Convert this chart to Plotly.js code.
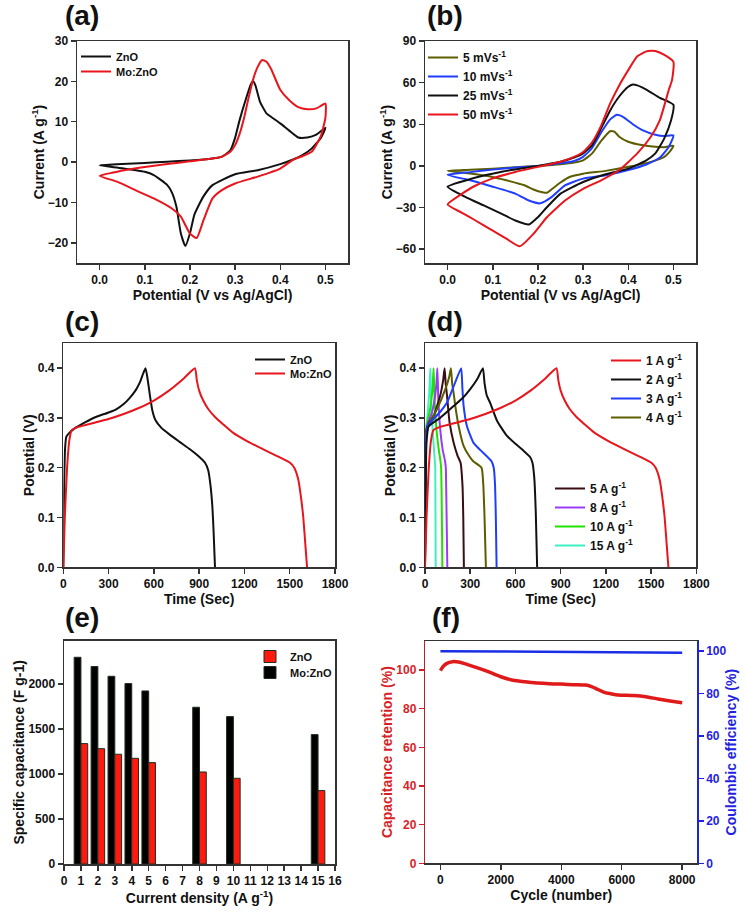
<!DOCTYPE html>
<html><head><meta charset="utf-8">
<script src="https://cdn.plot.ly/plotly-3.0.1.min.js"></script>
<style>html,body{margin:0;padding:0;background:#fff}#chart{width:746px;height:915px}</style>
</head><body><div id="chart"></div>
<script>
// ---------- (a) CV ZnO vs Mo:ZnO ----------
const a_zno_x = [0,0.05,0.1,0.15,0.2,0.25,0.27,0.28,0.29,0.3,0.31,0.325,0.335,0.34,0.345,0.355,0.37,0.385,0.4,0.42,0.44,0.46,0.48,0.5, 0.49,0.47,0.45,0.43,0.4,0.35,0.3,0.25,0.23,0.21,0.2,0.19,0.18,0.17,0.16,0.15,0.12,0.1,0.05,0];
const a_zno_y = [-0.8,-0.5,-0.2,0.1,0.4,0.9,1.3,2.0,3.0,6.0,10.4,16,19.3,20,19,15,12,10.8,9.6,7.8,6.1,6.1,6.8,8.5, 6,3.4,1.8,0.7,-0.5,-2,-3,-5.7,-8.5,-13,-17.7,-20.8,-17.7,-11,-7.5,-5.7,-3.2,-2.4,-1.5,-0.8];
const a_mo_x = [0,0.03,0.06,0.1,0.15,0.2,0.25,0.27,0.29,0.3,0.31,0.32,0.33,0.34,0.35,0.36,0.37,0.38,0.4,0.42,0.44,0.46,0.48,0.5, 0.5,0.49,0.47,0.45,0.43,0.4,0.35,0.3,0.27,0.25,0.23,0.215,0.2,0.18,0.16,0.12,0.08,0.04,0];
const a_mo_y = [-3.4,-2.6,-1.9,-1.2,-0.5,0.2,0.9,1.3,2.6,4.2,7,11,16,20.5,23.6,25.3,24.8,23,17.9,15.3,13.6,13.1,13.3,14.5, 11,6.5,2.6,1.5,0.7,-1.6,-3.6,-5.3,-7,-9,-14.4,-18.8,-17.7,-13.5,-11.5,-9,-7,-4.9,-3.4];

// ---------- (b) CV at scan rates ----------
const b5_x = [0,0.05,0.1,0.15,0.2,0.25,0.28,0.3,0.32,0.34,0.36,0.37,0.38,0.4,0.43,0.46,0.48,0.5, 0.49,0.48,0.45,0.4,0.35,0.3,0.27,0.25,0.23,0.22,0.21,0.19,0.17,0.13,0.1,0.05,0];
const b5_y = [-3.6,-2.8,-2,-1,0,1.2,2.4,4,9,18,25,24.5,21,17.4,15,13.8,13.5,14.5, 9.5,6.5,2.9,-0.7,-3.6,-5.6,-8,-12,-17,-19.4,-19,-17,-14,-10.4,-8,-5.5,-3.6];
const b10_x = [0,0.05,0.1,0.15,0.2,0.25,0.28,0.3,0.32,0.34,0.36,0.375,0.39,0.41,0.43,0.46,0.48,0.5, 0.49,0.47,0.44,0.4,0.35,0.3,0.26,0.23,0.205,0.18,0.15,0.1,0.05,0];
const b10_y = [-6.5,-4.5,-2.7,-1.2,0,1.8,3.5,6.5,13,24,33.5,36.8,35,30,26,22.5,21.5,22, 13.8,6,1,-3,-6.8,-9.2,-14,-22.5,-27,-25,-20,-15,-10.4,-6.5];
const b25_x = [0,0.04,0.08,0.12,0.16,0.2,0.25,0.28,0.3,0.32,0.34,0.36,0.38,0.4,0.41,0.42,0.44,0.47,0.5, 0.495,0.48,0.46,0.44,0.4,0.35,0.3,0.25,0.22,0.2,0.18,0.15,0.12,0.08,0.04,0];
const b25_y = [-15,-10.5,-7,-4.2,-2,0,3,6,9,15,27,40,50,57,58.6,58,55,49,44, 33,20,9,4,-2,-6,-11.6,-20,-29.8,-37,-42.3,-39.4,-34.6,-28.5,-22.5,-15];
const b50_x = [0,0.03,0.06,0.1,0.15,0.2,0.25,0.28,0.3,0.32,0.34,0.36,0.38,0.4,0.42,0.44,0.45,0.46,0.48,0.5, 0.497,0.49,0.47,0.45,0.42,0.38,0.34,0.3,0.26,0.22,0.19,0.16,0.13,0.1,0.06,0.03,0];
const b50_y = [-27.8,-20.5,-14.5,-9,-4.4,-0.7,3,6.5,10,17,29,45,58,69,79,82.5,83,82.8,80,75, 62,55,33,21,9,-3,-10.4,-16.5,-25,-37,-49,-58,-52.5,-46.7,-39,-33.5,-27.8];

// ---------- (c) GCD ZnO vs Mo:ZnO ----------
const c_zno_t = [0,5,12,20,40,80,150,200,243,300,353,400,442,480,508,530,545, 560,574,590,610,650,707,770,839,900,939,960,975,988,996,1001,1005];
const c_zno_v = [0,0.15,0.24,0.262,0.27,0.28,0.292,0.3,0.305,0.311,0.318,0.328,0.341,0.356,0.372,0.39,0.4, 0.375,0.345,0.315,0.296,0.28,0.266,0.252,0.237,0.222,0.21,0.195,0.165,0.12,0.07,0.03,0];
const c_mo_t = [0,10,25,40,55,100,200,300,400,500,600,700,800,872, 885,900,927,960,1005,1060,1126,1220,1325,1420,1502,1530,1557,1575,1590,1605,1615];
const c_mo_v = [0,0.1,0.2,0.255,0.275,0.282,0.29,0.298,0.308,0.32,0.335,0.355,0.38,0.4, 0.375,0.355,0.335,0.318,0.302,0.287,0.27,0.253,0.237,0.223,0.21,0.2,0.176,0.14,0.1,0.04,0];

// ---------- (d) GCD at current densities ----------
const d1_t = c_mo_t, d1_v = c_mo_v;
const d2_t = [0,4,10,24,100,190,250,300,350,384, 395,410,433,477,541,600,651,696,713,725,735,744];
const d2_v = [0,0.15,0.25,0.283,0.3,0.324,0.34,0.358,0.38,0.4, 0.37,0.345,0.33,0.295,0.265,0.248,0.235,0.222,0.21,0.18,0.11,0];
const d3_t = [0,3,8,20,57,100,146,201,240, 248,256,278,322,386,441,456,464,470,475];
const d3_v = [0,0.15,0.26,0.285,0.298,0.312,0.331,0.372,0.4, 0.36,0.325,0.284,0.25,0.23,0.213,0.2,0.17,0.1,0];
const d4_t = [0,3,8,30,80,135,160,172, 180,190,201,223,256,290,320,375,386,395,404];
const d4_v = [0,0.18,0.27,0.29,0.318,0.358,0.382,0.4, 0.37,0.35,0.324,0.284,0.244,0.225,0.213,0.2,0.17,0.1,0];
const d5_t = [0,2,6,25,57,101,120,130, 137,146,163,190,215,236,249,254,258];
const d5_v = [0.02,0.2,0.27,0.29,0.304,0.345,0.375,0.4, 0.37,0.345,0.291,0.25,0.225,0.21,0.163,0.1,0];
const d8_t = [0,2,5,20,45,65,76,82, 88,95,105,118,132,138,141,145,148];
const d8_v = [0.02,0.2,0.27,0.29,0.31,0.34,0.37,0.4, 0.34,0.3,0.265,0.235,0.215,0.2,0.15,0.07,0];
const d10_t = [0,2,5,15,35,50,57, 62,70,80,92,102,107,110,113,115];
const d10_v = [0.02,0.2,0.27,0.29,0.32,0.36,0.4, 0.35,0.3,0.265,0.235,0.215,0.2,0.15,0.07,0];
const d15_t = [0,2,5,15,28,35, 40,46,53,60,65,68,69,70,71];
const d15_v = [0.03,0.22,0.275,0.3,0.35,0.4, 0.34,0.3,0.265,0.235,0.215,0.2,0.15,0.07,0];

// ---------- (e) specific capacitance ----------
const e_density = [1,2,3,4,5,8,10,15];
const e_zno = [1337,1281,1219,1174,1126,1022,952,815];
const e_mozno = [2296,2193,2085,2004,1922,1741,1637,1437];

// ---------- (f) cycling ----------
const f_cycle = [0,100,200,400,600,800,1000,1300,1600,2000,2400,2800,3200,3600,4000,4400,4800,5000,5200,5400,5600,5800,6000,6400,6800,7200,7600,8000];
const f_retention = [99.7,102,103.3,104.3,104.1,103.3,102.3,100.7,99,96.5,94.7,93.9,93.3,92.9,92.7,92.4,92.2,91.4,90,88.6,87.8,87.2,87,86.8,86.2,85,84,83.1];
const f_ce_cycle = [0,2000,4000,6000,8000];
const f_ce = [99.9,99.7,99.5,99.4,99.2];

// ---------- styling ----------
const F = 'Liberation Sans, Arial, sans-serif';
const W = 746, H = 915;
const dx = (l, r) => [l / W, r / W];
const dy = (t, b) => [1 - b / H, 1 - t / H];

function ax(domain, anchor, range, title, extra) {
  return Object.assign({
    domain, anchor, range, showline: true, mirror: true, linecolor: '#333', linewidth: 1.5,
    ticks: 'outside', ticklen: 5, tickwidth: 1.5, tickcolor: '#333', showgrid: false, zeroline: false,
    tickfont: {family: F, size: 12, weight: 'bold', color: '#111'},
    title: {text: title, font: {family: F, size: 14, weight: 'bold', color: '#111'}, standoff: 0}
  }, extra || {});
}
function line(x, y, name, color, xa, ya, leg, w) {
  return {type: 'scatter', mode: 'lines', x, y, name, xaxis: xa, yaxis: ya, legend: leg,
    line: {color, width: w || 2, shape: 'spline', smoothing: 0.5}};
}

const traces = [
  line(a_zno_x, a_zno_y, 'ZnO', '#111111', 'x', 'y', 'legend'),
  line(a_mo_x, a_mo_y, 'Mo:ZnO', '#e8161c', 'x', 'y', 'legend7'),

  line(b5_x, b5_y, '5 mVs<sup>-1</sup>', '#5c5c00', 'x2', 'y2', 'legend2'),
  line(b10_x, b10_y, '10 mVs<sup>-1</sup>', '#1f3dff', 'x2', 'y2', 'legend2'),
  line(b25_x, b25_y, '25 mVs<sup>-1</sup>', '#111111', 'x2', 'y2', 'legend2'),
  line(b50_x, b50_y, '50 mVs<sup>-1</sup>', '#e8161c', 'x2', 'y2', 'legend2'),

  line(c_zno_t, c_zno_v, 'ZnO', '#111111', 'x3', 'y3', 'legend3'),
  line(c_mo_t, c_mo_v, 'Mo:ZnO', '#e8161c', 'x3', 'y3', 'legend8'),

  line(d15_t, d15_v, '15 A g<sup>-1</sup>', '#3df0c0', 'x4', 'y4', 'legend5'),
  line(d10_t, d10_v, '10 A g<sup>-1</sup>', '#22e000', 'x4', 'y4', 'legend5'),
  line(d8_t, d8_v, '8 A g<sup>-1</sup>', '#9a3cf5', 'x4', 'y4', 'legend5'),
  line(d5_t, d5_v, '5 A g<sup>-1</sup>', '#3a0d12', 'x4', 'y4', 'legend5'),
  line(d4_t, d4_v, '4 A g<sup>-1</sup>', '#5c5c00', 'x4', 'y4', 'legend4'),
  line(d3_t, d3_v, '3 A g<sup>-1</sup>', '#1f3dff', 'x4', 'y4', 'legend4'),
  line(d2_t, d2_v, '2 A g<sup>-1</sup>', '#111111', 'x4', 'y4', 'legend4'),
  line(d1_t, d1_v, '1 A g<sup>-1</sup>', '#e8161c', 'x4', 'y4', 'legend4'),

  {type: 'bar', x: e_density, y: e_mozno, name: 'Mo:ZnO', xaxis: 'x5', yaxis: 'y5', legend: 'legend9',
   marker: {color: '#000000', line: {color: '#1e2e1e', width: 1}}},
  {type: 'bar', x: e_density, y: e_zno, name: 'ZnO', xaxis: 'x5', yaxis: 'y5', legend: 'legend6',
   marker: {color: '#ff1a10', line: {color: '#1e2e1e', width: 1}}},

  {type: 'scatter', mode: 'lines', x: f_ce_cycle, y: f_ce, name: 'Coulombic efficiency', xaxis: 'x6', yaxis: 'y7',
   showlegend: false, line: {color: '#1a2ee6', width: 2.5}},
  {type: 'scatter', mode: 'lines', x: f_cycle, y: f_retention, name: 'Capacitance retention', xaxis: 'x6', yaxis: 'y6',
   showlegend: false, line: {color: '#e01a1a', width: 3.5, shape: 'spline', smoothing: 0.6}}
];

// legend orders for (d)
const rank4 = ['1 A g<sup>-1</sup>','2 A g<sup>-1</sup>','3 A g<sup>-1</sup>','4 A g<sup>-1</sup>'];
const rank5 = ['5 A g<sup>-1</sup>','8 A g<sup>-1</sup>','10 A g<sup>-1</sup>','15 A g<sup>-1</sup>'];
traces.forEach(t => {
  if (t.legend === 'legend4') t.legendrank = rank4.indexOf(t.name) + 1;
  if (t.legend === 'legend5') t.legendrank = rank5.indexOf(t.name) + 1;
});

function leg(x, y, size) {
  return {x: x / W, y: 1 - y / H, xanchor: 'left', yanchor: 'top', bgcolor: 'rgba(0,0,0,0)', borderwidth: 0,
    font: {family: F, size: size || 11, weight: 'bold', color: '#111'}, tracegroupgap: 0, itemwidth: 30};
}

const red = '#d81e26', blue = '#1f22e0';
const layout = {
  width: W, height: H, margin: {l: 0, r: 0, t: 0, b: 0}, paper_bgcolor: '#fff', plot_bgcolor: '#fff',
  font: {family: F}, barmode: 'group', bargap: 0.2, bargroupgap: 0,
  xaxis: ax(dx(77, 348), 'y', [-0.05, 0.55], 'Potential (V vs Ag/AgCl)', {tickvals: [0,0.1,0.2,0.3,0.4,0.5], tickformat: '.1f'}),
  yaxis: ax(dy(41, 263), 'x', [-25, 30], 'Current (A g<sup>-1</sup>)', {tickvals: [-20,-10,0,10,20,30]}),
  xaxis2: ax(dx(425, 696), 'y2', [-0.05, 0.55], 'Potential (V vs Ag/AgCl)', {tickvals: [0,0.1,0.2,0.3,0.4,0.5], tickformat: '.1f'}),
  yaxis2: ax(dy(41, 263), 'x2', [-70, 90], 'Current (A g<sup>-1</sup>)', {tickvals: [-60,-30,0,30,60,90]}),
  xaxis3: ax(dx(63.3, 335), 'y3', [0, 1800], 'Time (Sec)', {tickvals: [0,300,600,900,1200,1500,1800]}),
  yaxis3: ax(dy(343.3, 567.3), 'x3', [0, 0.45], 'Potential (V)', {tickvals: [0,0.1,0.2,0.3,0.4], tickformat: '.1f'}),
  xaxis4: ax(dx(425, 696.3), 'y4', [0, 1800], 'Time (Sec)', {tickvals: [0,300,600,900,1200,1500,1800]}),
  yaxis4: ax(dy(343.3, 567.3), 'x4', [0, 0.45], 'Potential (V)', {tickvals: [0,0.1,0.2,0.3,0.4], tickformat: '.1f'}),
  xaxis5: ax(dx(64, 335), 'y5', [0, 16], 'Current density (A g<sup>-1</sup>)', {dtick: 1, tick0: 0}),
  yaxis5: ax(dy(640.7, 864), 'x5', [0, 2480], 'Specific capacitance (F g-1)', {tickvals: [0,500,1000,1500,2000]}),
  xaxis6: ax(dx(425.3, 697.3), 'y6', [-500, 8500], 'Cycle (number)', {tickvals: [0,2000,4000,6000,8000]}),
  yaxis6: ax(dy(641, 863.3), 'x6', [0, 115], 'Capacitance retention (%)', {
    mirror: false, linecolor: '#b8202a', tickcolor: red, tickvals: [0,20,40,60,80,100],
    tickfont: {family: F, size: 12, weight: 'bold', color: red},
    title: {text: 'Capacitance retention (%)', font: {family: F, size: 14, weight: 'bold', color: red}, standoff: 0}}),
  yaxis7: ax(dy(641, 863.3), 'x6', [0, 104.7], 'Coulombic efficiency (%)', {
    overlaying: 'y6', side: 'right', mirror: false, linecolor: blue, tickcolor: blue, tickvals: [0,20,40,60,80,100],
    tickfont: {family: F, size: 12, weight: 'bold', color: blue},
    title: {text: 'Coulombic efficiency (%)', font: {family: F, size: 14, weight: 'bold', color: blue}, standoff: 0}}),
  legend: leg(76, 42, 11),
  legend7: leg(76, 57, 11),
  legend2: leg(423, 43, 12),
  legend3: leg(250, 345, 11),
  legend8: leg(250, 359, 11),
  legend4: leg(606, 346, 12),
  legend5: leg(550, 474, 12),
  legend6: leg(250, 642, 11),
  legend9: leg(250, 658, 11),
  annotations: [
    ['(a)', 63, 15], ['(b)', 425, 15], ['(c)', 63, 321], ['(d)', 425, 321], ['(e)', 63, 617], ['(f)', 430, 617]
  ].map(([t, x, y]) => ({text: t, xref: 'paper', yref: 'paper', x: x / W, y: 1 - y / H, xanchor: 'left', yanchor: 'middle',
    showarrow: false, font: {family: F, size: 28, weight: 'bold', color: '#111'}}))
};

Plotly.newPlot('chart', traces, layout, {displayModeBar: false, staticPlot: true});
</script></body></html>
